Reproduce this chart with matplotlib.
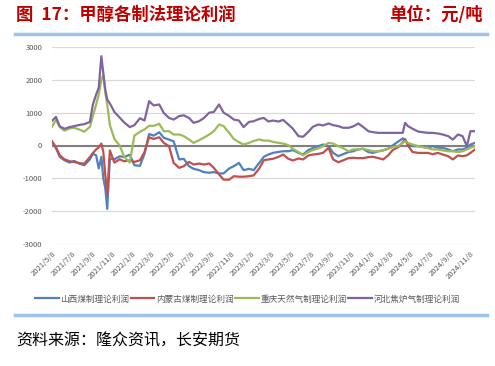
import matplotlib
matplotlib.use('Agg')
import matplotlib.pyplot as plt
import pandas as pd

plt.rcParams['font.family'] = ['Noto Sans CJK SC', 'DejaVu Sans']

# 日期（半月一个点，尖峰附近加密）
dates = pd.to_datetime([
    '2021-05-08', '2021-05-20', '2021-06-01', '2021-06-15', '2021-07-01', '2021-07-15',
    '2021-08-01', '2021-08-15', '2021-09-01', '2021-09-10', '2021-09-20', '2021-09-28',
    '2021-10-06', '2021-10-12', '2021-10-18', '2021-10-24', '2021-11-01', '2021-11-15',
    '2021-12-01', '2021-12-15',
    '2022-01-01', '2022-01-15', '2022-02-01', '2022-02-15', '2022-03-01', '2022-03-15',
    '2022-04-01', '2022-04-15', '2022-05-01', '2022-05-15', '2022-06-01', '2022-06-15',
    '2022-07-01', '2022-07-15', '2022-08-01', '2022-08-15', '2022-09-01', '2022-09-15',
    '2022-10-01', '2022-10-15', '2022-11-01', '2022-11-15', '2022-12-01', '2022-12-15',
    '2023-01-01', '2023-01-15', '2023-02-01', '2023-02-15', '2023-03-01', '2023-03-15',
    '2023-04-01', '2023-04-15', '2023-05-01', '2023-05-15', '2023-06-01', '2023-06-15',
    '2023-07-01', '2023-07-15', '2023-08-01', '2023-08-15', '2023-09-01', '2023-09-15',
    '2023-10-01', '2023-10-15', '2023-11-01', '2023-11-15', '2023-12-01', '2023-12-15',
    '2024-01-01', '2024-01-15', '2024-02-01', '2024-02-15', '2024-03-01', '2024-03-15',
    '2024-04-01', '2024-04-15', '2024-04-22', '2024-05-01', '2024-05-15', '2024-06-01',
    '2024-06-15', '2024-07-01', '2024-07-15', '2024-08-01', '2024-08-15', '2024-09-01',
    '2024-09-15', '2024-10-01', '2024-10-15', '2024-10-28', '2024-11-08', '2024-11-22',
])

shanxi = [
    100, -80, -350, -450, -520, -470, -560, -600, -420, -250, -300, -700,
    -350, -1000, -1300, -1930, -400, -420, -330, -350,
    -280, -600, -620, -250, 350, 300,
    405, 235, 180, 130, -425, -405, -630, -710, -750, -810, -830, -810,
    -850, -850, -700, -630, -530, -750,
    -710, -750, -530, -345, -275, -225, -195, -175, -175, -140, -225, -275,
    -140, -80, -20, 30, -20, -225, -325, -265, -200, -175, -120, -100,
    -200, -225, -175, -150, -100, 0, 120, 215, 185, 50, -20, -20,
    -40, -70, -20, -70, -70, -120, -175, -120, -120, -70, 30, 80,
]

neimeng = [
    130, -50, -300, -420, -480, -500, -540, -550, -350, -230, -120, -60,
    60, -200, -900, -1480, -150, -520, -420, -480,
    -450, -500, -450, -200, 250, 200,
    250, 80, -20, -530, -680, -630, -500, -580, -550, -580, -550, -680,
    -880, -1040, -1040, -935, -950, -950,
    -935, -910, -700, -450, -425, -405, -345, -275, -405, -455, -395, -425,
    -305, -275, -255, -225, -70, -425, -510, -455, -385, -375, -385, -385,
    -355, -345, -385, -425, -305, -140, -50, 100, 185, 0, -200, -225,
    -225, -225, -265, -225, -275, -325, -425, -305, -325, -300, -225, -120,
]

chongqing = [
    570, 780, 560, 450, 520, 540, 480, 420, 570, 900, 1250, 1550,
    2000, 2150, 1600, 1250, 620, 200, 0, -350,
    -520, 300, 420, 490, 600, 600,
    660, 435, 435, 335, 335, 285, 185, 80, 160, 235, 335, 435,
    640, 590, 385, 200, 100, 30,
    80, 140, 185, 150, 150, 110, 80, 60, 10, -100, -200, -300,
    -200, -140, -90, -20, 80, 60, -20, -80, -175, -120, -120, -100,
    -140, -175, -175, -140, -100, -50, -20, 80, 130, 80, 30, -20,
    -50, -80, -120, -120, -150, -175, -175, -200, -175, -120, -70, -20,
]

hebei = [
    750, 870, 580, 510, 560, 590, 630, 650, 720, 1250, 1550, 1760,
    2720, 2200, 1700, 1400, 1280, 1020, 850, 700,
    560, 620, 830, 760, 1350, 1220,
    1250, 990, 840, 790, 895, 920, 840, 690, 740, 830, 1000, 1020,
    1250, 1000, 900, 790, 760, 560,
    720, 740, 810, 840, 730, 760, 730, 780, 640, 510, 285, 265,
    415, 570, 640, 610, 670, 620, 590, 540, 540, 580, 670, 570,
    435, 405, 385, 385, 385, 385, 385, 385, 690, 590, 510, 425,
    405, 385, 385, 365, 335, 285, 180, 335, 285, -20, 435, 435,
]

series_names = ['山西煤制理论利润', '内蒙古煤制理论利润', '重庆天然气制理论利润', '河北焦炉气制理论利润']
colors = ['#4F81BD', '#C0504D', '#9BBB59', '#8064A2']

tick_dates = pd.date_range('2021-05-01', '2024-11-01', freq='2MS') + pd.Timedelta(days=7)
tick_labels = [f'{d.year}/{d.month}/{d.day}' for d in tick_dates]
y_ticks = [-3000, -2000, -1000, 0, 1000, 2000, 3000]

fig = plt.figure(figsize=(4.95, 3.66), dpi=100)

# 标题和单位
fig.text(16 / 495, 1 - 15 / 366, '图  17：甲醇各制法理论利润', color='#C00000',
         fontsize=12.5, fontweight='bold', va='center', ha='left')
fig.text(483 / 495, 1 - 15 / 366, '单位：元/吨', color='#C00000',
         fontsize=12.5, fontweight='bold', va='center', ha='right')
# 上下两条浅蓝色横线
fig.add_artist(plt.Line2D([15 / 495, 487 / 495], [1 - 33.5 / 366] * 2,
                          color='#9DC3E6', lw=2.5, transform=fig.transFigure))
fig.add_artist(plt.Line2D([15 / 495, 487 / 495], [1 - 315 / 366] * 2,
                          color='#9DC3E6', lw=2.5, transform=fig.transFigure))
fig.text(16 / 495, 1 - 341 / 366, '资料来源：隆众资讯，长安期货', color='black',
         fontsize=11.5, va='center', ha='left')

ax = fig.add_axes([52 / 495, (366 - 244) / 366, 423 / 495, 197 / 366])

all_series = [shanxi, neimeng, chongqing, hebei]
for vals, name, c in zip(all_series, series_names, colors):
    ax.plot(dates, vals, color=c, lw=1.6, label=name, zorder=3)

ax.axhline(0, color='#808080', lw=1.5, zorder=2)
ax.set_ylim(-3000, 3000)
ax.set_xlim(dates[0], dates[-1])
ax.set_yticks(y_ticks)
ax.set_yticklabels([str(v) for v in y_ticks])
ax.set_xticks(tick_dates)
ax.set_xticklabels(tick_labels, rotation=45, ha='right', rotation_mode='anchor')
ax.tick_params(axis='both', length=0, labelsize=5.5, labelcolor='#595959')
ax.tick_params(axis='y', pad=7)
ax.tick_params(axis='x', pad=4)
ax.grid(axis='y', color='#D9D9D9', lw=0.9, zorder=0)
ax.set_axisbelow(True)
for s in ax.spines.values():
    s.set_visible(False)

fig.legend(loc='center', bbox_to_anchor=(0.5, 1 - 299 / 366), ncol=4, frameon=False,
           fontsize=6.2, handlelength=2.7, handletextpad=0.2, columnspacing=0.2,
           labelcolor='#595959')

fig.savefig('out.png', dpi=100)
